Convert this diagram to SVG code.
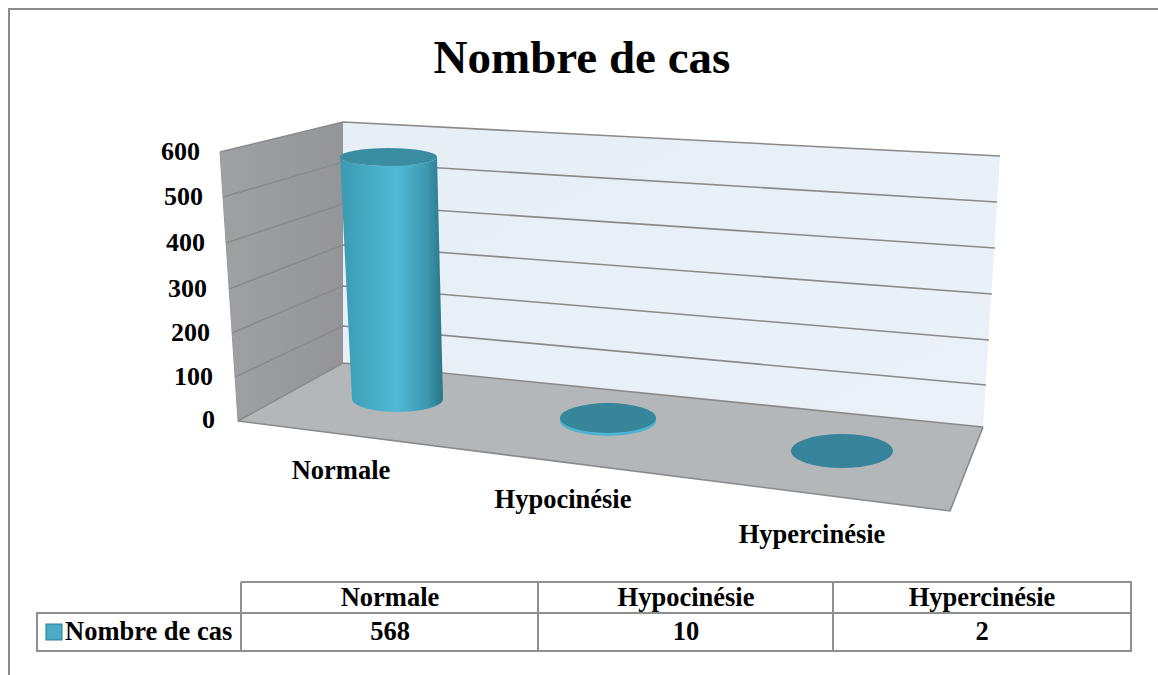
<svg xmlns="http://www.w3.org/2000/svg" width="1158" height="675" viewBox="0 0 1158 675">
<defs>
<style>
.t{font-family:"Liberation Serif","Times New Roman",serif;font-weight:bold;fill:#000}
.lab{font-size:26.5px}
.ax{font-size:26px;text-anchor:end}
.mid{text-anchor:middle}
.grid{stroke:#8a8a8a;stroke-width:1.6;fill:none}
.tb{stroke:#8f8f8f;stroke-width:2;fill:none}
</style>
<linearGradient id="cyl" x1="0" y1="0" x2="1" y2="0">
<stop offset="0" stop-color="#3a9ab2"/>
<stop offset="0.55" stop-color="#52bad6"/>
<stop offset="0.85" stop-color="#3b98ae"/>
<stop offset="1" stop-color="#2a7586"/>
</linearGradient>
<linearGradient id="back" x1="0" y1="0" x2="1" y2="1">
<stop offset="0" stop-color="#e6eef6"/>
<stop offset="1" stop-color="#ebf1f7"/>
</linearGradient>
<linearGradient id="lw" x1="0" y1="0" x2="1" y2="0">
<stop offset="0" stop-color="#9fa1a4"/>
<stop offset="1" stop-color="#939598"/>
</linearGradient>
</defs>
<rect width="1158" height="675" fill="#fff"/>
<path d="M9,675 V9 H1158" fill="none" stroke="#8a8a8a" stroke-width="2"/>
<g id="title"><text class="t mid" x="582" y="73" font-size="47">Nombre de cas</text></g>
<g id="walls">
<polygon points="220,152 343,122 343,363 238,421" fill="url(#lw)"/>
<polygon points="343,122 1000,156 983,427 343,363" fill="url(#back)"/>
<polygon points="238,421 343,363 983,427 950,511" fill="#b4b7ba"/>
<polyline points="238,421 950,511 983,427" class="grid" stroke="#7f7f7f"/>
<line x1="220" y1="152" x2="238" y2="421" stroke="#9a9a9a" stroke-width="1"/>
</g>
<g id="gridlines" class="grid">
<polyline points="220,152 343,122 1000,156"/>
<polyline points="223,197 343,162 997,202"/>
<polyline points="226,243 343,204 995,248"/>
<polyline points="229,289 343,245 992,294"/>
<polyline points="232,333 343,286 989,340"/>
<polyline points="235,377 343,326 986,385"/>
<polyline points="238,421 343,363 983,427"/>
</g>
<g id="yaxis" class="t ax">
<text x="200" y="160">600</text>
<text x="203" y="205">500</text>
<text x="205" y="251">400</text>
<text x="207" y="297">300</text>
<text x="210" y="341">200</text>
<text x="213" y="385">100</text>
<text x="215" y="428">0</text>
</g>
<g id="bar-normale">
<path d="M340,157 L352,399 A45.5,13 0 0 0 443,399 L437,157 A48.5,9 0 0 1 340,157 Z" fill="url(#cyl)"/>
<ellipse cx="388.5" cy="157" rx="48.5" ry="9" fill="#3a8ca1"/>
</g>
<g id="bar-hypocinesie">
<ellipse cx="608" cy="421" rx="48" ry="15" fill="#4fb4cf"/>
<ellipse cx="608" cy="418" rx="48" ry="15" fill="#37859a"/>
</g>
<g id="bar-hypercinesie">
<ellipse cx="842" cy="451" rx="51" ry="17" fill="#37849a"/>
</g>
<g id="xlabels" class="t lab mid">
<text x="341" y="479">Normale</text>
<text x="563" y="508">Hypocinésie</text>
<text x="812" y="543">Hypercinésie</text>
</g>
<g id="table">
<path class="tb" d="M241,582 H1131 V651 H37 V613 H1131 M241,582 V651 M538,582 V651 M833,582 V651"/>
<rect x="46" y="624" width="16" height="16" fill="#4bacc6" stroke="#2f7f91" stroke-width="1"/>
<g class="t lab">
<text x="65" y="640">Nombre de cas</text>
<text class="mid" x="390" y="606">Normale</text>
<text class="mid" x="686" y="606">Hypocinésie</text>
<text class="mid" x="982" y="606">Hypercinésie</text>
<text class="mid" x="390" y="640">568</text>
<text class="mid" x="686" y="640">10</text>
<text class="mid" x="982" y="640">2</text>
</g>
</g>
</svg>
